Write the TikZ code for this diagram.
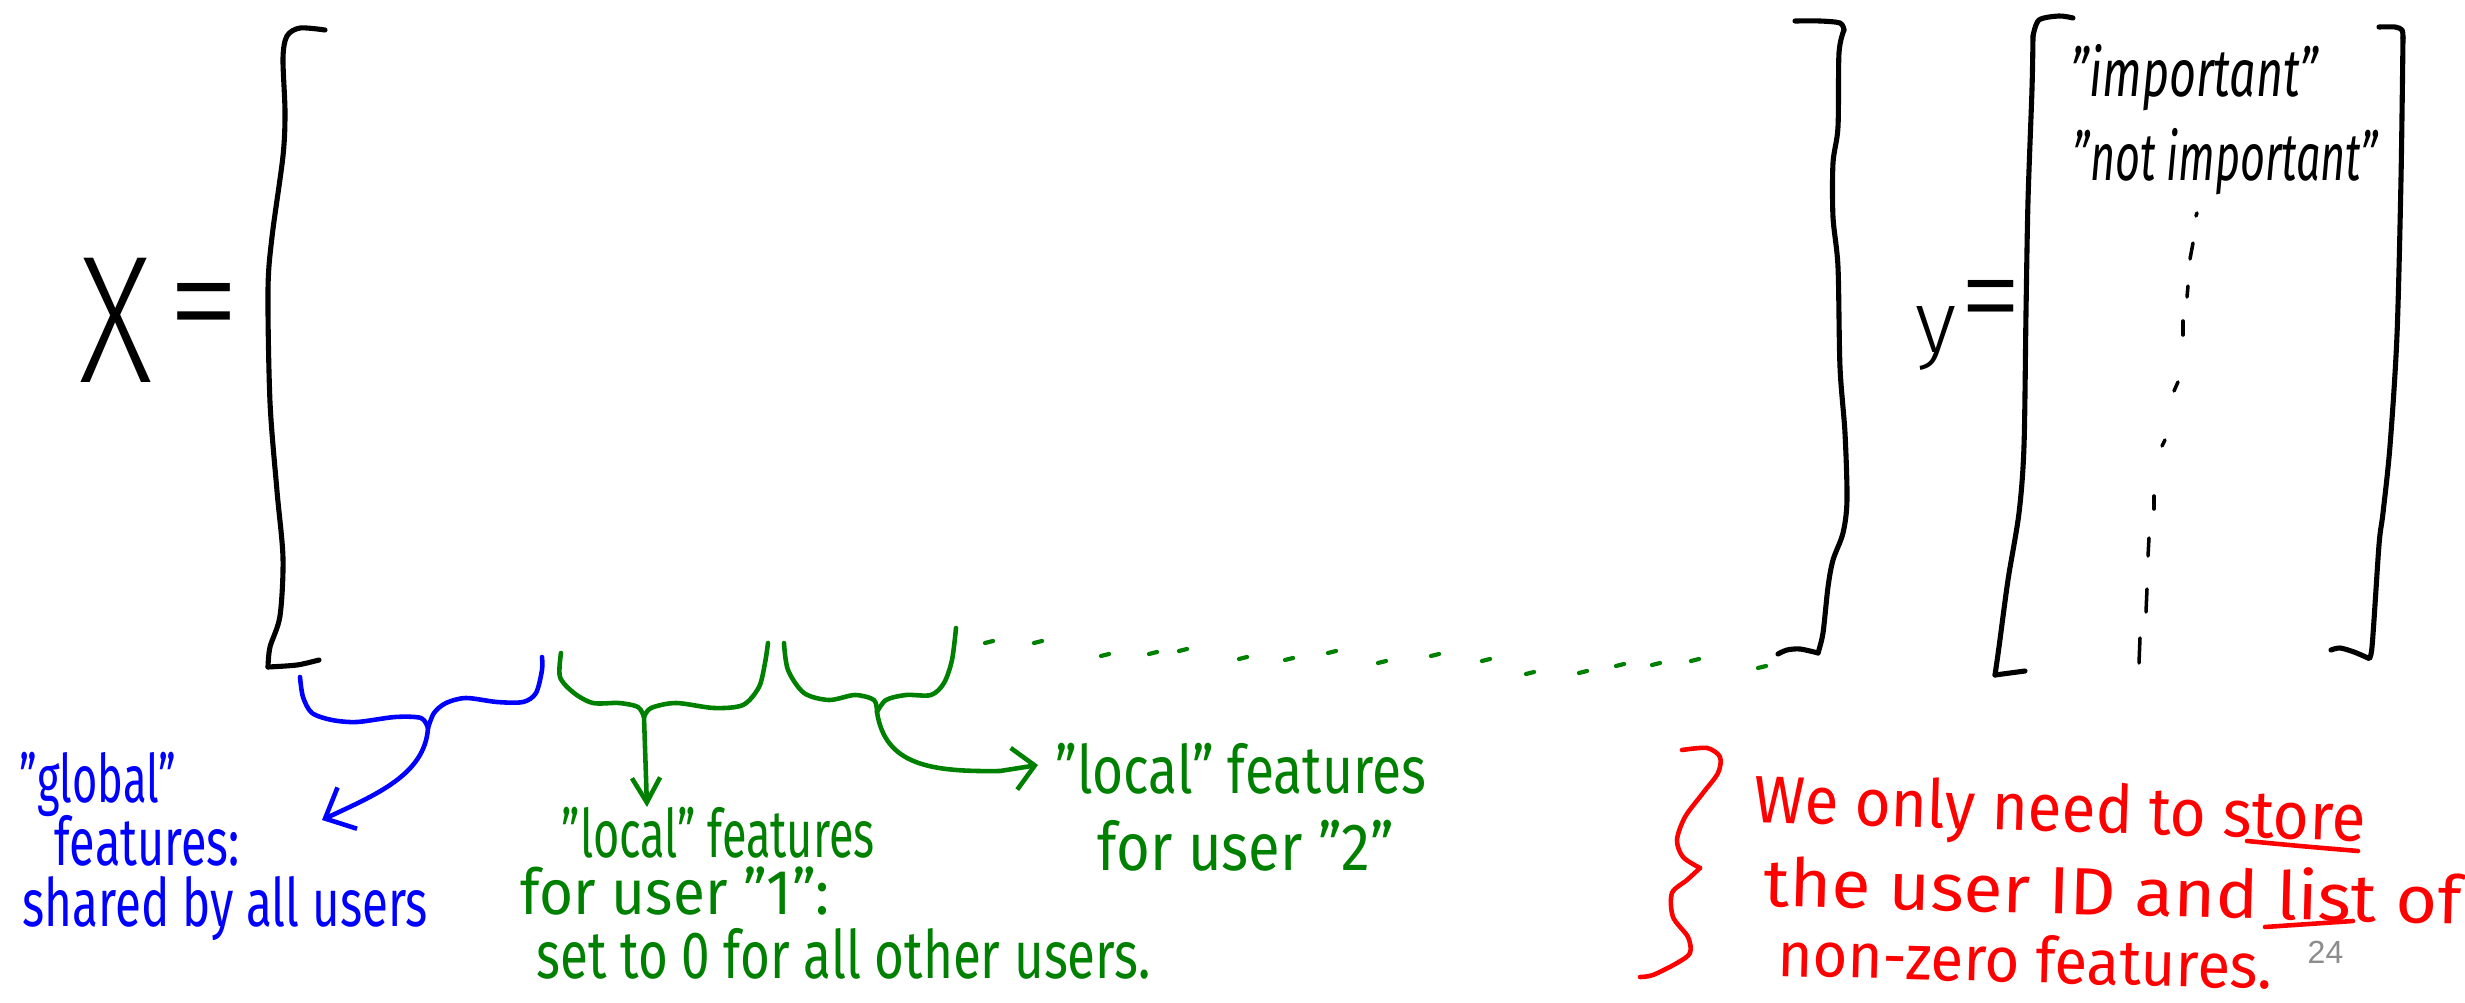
\documentclass[tikz,border=0pt]{standalone}
\usepackage{fontspec}
\setmainfont{Fira Sans}
\newfontfamily\thinfont{Fira Sans Light}
\newfontfamily\numfont{Liberation Sans}
\usetikzlibrary{arrows.meta}
\definecolor{hblue}{RGB}{0,0,255}
\definecolor{hgreen}{RGB}{0,128,0}
\definecolor{hred}{RGB}{255,0,0}
\definecolor{pgray}{RGB}{140,140,140}
\newcommand\hw[2]{\resizebox{#1cm}{\height}{\fontsize{19}{19}\selectfont #2}}
\begin{document}
\begin{tikzpicture}[x=0.01cm,y=-0.01cm,line cap=round,line join=round,
  pen/.style={line width=1.45pt,black},
  cpen/.style={line width=1.3pt},
  tick/.style={line width=1.0pt,black},
  lbl/.style={inner sep=0pt,anchor=base west}]
\useasboundingbox (0,0) rectangle (2465,1003);
\fill[white] (0,0) rectangle (2465,1003);

% ---- X = [ ... ]
\node[lbl] (Xl) at (79,382) {\resizebox{0.73cm}{\height}{\thinfont\fontsize{51.6}{52}\selectfont X}};
\node[lbl] (eqX) at (167,355) {\resizebox{0.73cm}{0.72cm}{\thinfont\fontsize{30}{30}\selectfont =}};
\draw[pen] plot[smooth] coordinates {(325,30) (300,28) (287,36) (283,58) (285,112) (283,156) (272,237) (268,290) (270,402) (277,491) (283,558) (280,616) (270,647) (268,667)};
\draw[pen] plot[smooth] coordinates {(268,667) (297,665) (319,660)};
\draw[pen] plot[smooth] coordinates {(1795,21) (1820,21) (1840,23) (1844,30)};
\draw[pen] plot[smooth] coordinates {(1844,30) (1839,53) (1838,127) (1833,163) (1833,217) (1838,267) (1840,367) (1845,433) (1847,500) (1843,533) (1833,560) (1828,587) (1823,633) (1818,653)};
\draw[pen] plot[smooth] coordinates {(1818,653) (1800,649) (1787,650) (1778,654)};

% ---- y = [ ... ]
\node[lbl] (yl) at (1915,352) {\thinfont\fontsize{25}{25}\selectfont y};
\node[lbl] (eqY) at (1959,342) {\resizebox{0.63cm}{0.62cm}{\thinfont\fontsize{30}{30}\selectfont =}};
\draw[pen] plot[smooth] coordinates {(2073,18) (2059,16) (2039,20) (2033,36)};
\draw[pen] plot[smooth] coordinates {(2033,36) (2032,89) (2028,201) (2026,313) (2024,446) (2019,513) (2008,580) (1999,647) (1995,675)};
\draw[pen] plot[smooth] coordinates {(1995,675) (2010,673) (2025,671)};
\draw[pen] plot[smooth] coordinates {(2379,27) (2395,27) (2402,30) (2403,38)};
\draw[pen] plot[smooth] coordinates {(2403,38) (2401,179) (2397,335) (2390,446) (2383,513) (2379,545) (2372,647) (2368,658)};
\draw[pen] plot[smooth] coordinates {(2368,658) (2354,652) (2340,648) (2331,650)};
\node[lbl] (imp) at (2070,97) {\hw{2.47}{\itshape "important"}};
\node[lbl] (notimp) at (2072,180) {\hw{3.05}{\itshape "not important"}};
\foreach \a/\b/\c/\d in {2197/213/2196/216, 2193/243/2190/259, 2188/286/2187/297, 2183/321/2183/335, 2178/382/2174/391, 2165/440/2162/446, 2154/496/2154/509, 2149/538/2148/556, 2147/589/2146/612, 2140/638/2139/663}
  \draw[tick] (\a,\b) -- (\c,\d);

% ---- blue brace: global features
\draw[cpen,hblue] plot[smooth] coordinates {(300,677) (303,697) (312,713) (332,720) (357,722) (395,717) (421,718) (428,728)};
\draw[cpen,hblue] plot[smooth] coordinates {(428,728) (434,713) (446,703) (466,698) (497,702) (523,702) (536,693) (542,670) (542,657)};
\coordinate (bbc) at (428,728);
\coordinate (bbtip) at (322,820);
\draw[cpen,hblue,-{Straight Barb[length=7pt,width=13pt,line width=1.3pt]}] (bbc) .. controls (425,775) and (375,795) .. (bbtip);
\node[lbl,hblue] (glob) at (19,802) {\hw{1.56}{"global"}};
\node[lbl,hblue] (feat) at (54,865) {\hw{1.85}{features:}};
\node[lbl,hblue] (shared) at (22,926) {\hw{4.05}{shared by all users}};

% ---- green brace 1: local features user 1
\draw[cpen,hgreen] plot[smooth] coordinates {(561,653) (560,677) (574,693) (593,703) (619,703) (638,707) (644,717)};
\draw[cpen,hgreen] plot[smooth] coordinates {(644,717) (651,708) (676,703) (714,708) (743,705) (759,687) (765,663) (768,643)};
\coordinate (g1c) at (644,717);
\coordinate (g1tip) at (647,807);
\draw[cpen,hgreen,-{Straight Barb[length=7pt,width=8pt,line width=1.3pt]}] (g1c) -- (g1tip);
\node[lbl,hgreen] (loc1) at (561,857) {\hw{3.13}{"local" features}};
\node[lbl,hgreen] (user1) at (520,914) {\hw{3.09}{\fontsize{18}{18}\selectfont for user "1":}};
\node[lbl,hgreen] (set0) at (536,978) {\hw{6.14}{set to 0 for all other users.}};

% ---- green brace 2: local features user 2
\draw[cpen,hgreen] plot[smooth] coordinates {(784,643) (788,670) (804,693) (829,700) (855,695) (874,700) (877,712)};
\draw[cpen,hgreen] plot[smooth] coordinates {(877,712) (886,700) (906,695) (931,695) (944,683) (952,660) (956,628)};
\coordinate (g2c) at (877,712);
\coordinate (g2tip) at (1038,765);
\draw[cpen,hgreen,-{Straight Barb[length=6pt,width=12pt,line width=1.3pt]}] (g2c) .. controls (885,765) and (930,772) .. (1000,771) -- (g2tip);
\node[lbl,hgreen] (loc2) at (1055,793) {\hw{3.70}{"local" features}};
\node[lbl,hgreen] (user2) at (1097,870) {\hw{2.96}{for user "2"}};

% ---- green dotted continuation
\foreach \a/\b in {989/642, 1038/642, 1105/655, 1153/653, 1183/650, 1243/658, 1289/659, 1332/652, 1382/662, 1435/655, 1486/660, 1530/673, 1583/672, 1620/665, 1656/664, 1695/660, 1762/667}
  \draw[line width=1.2pt,hgreen] (\a,\b) ++(-4,1) -- ++(8,-2);

% ---- red brace and note
\draw[cpen,hred] plot[smooth] coordinates {(1682,750) (1707,748) (1720,757) (1718,773) (1703,793) (1685,817) (1677,840) (1683,857) (1700,868)};
\draw[cpen,hred] plot[smooth] coordinates {(1700,868) (1687,880) (1672,893) (1673,917) (1688,937) (1690,953) (1677,963) (1653,975) (1640,977)};
\node[lbl,hred,rotate=-1.8] (red1) at (1753,822) {\hw{6.11}{We only need to store}};
\node[lbl,hred,rotate=-1.5] (red2) at (1763,906) {\hw{6.97}{the user ID and list of}};
\node[lbl,hred,rotate=-1.5] (red3) at (1777,976) {\hw{4.94}{\fontsize{18}{18}\selectfont non-zero features.}};
\draw[cpen,hred] plot[smooth] coordinates {(2247,841) (2300,846) (2358,851)};
\draw[cpen,hred] (2265,927) -- (2353,921);

% ---- page number
\node[lbl,pgray] (page) at (2307,963) {\numfont\fontsize{9.1}{10}\selectfont 24};
\end{tikzpicture}
\end{document}
